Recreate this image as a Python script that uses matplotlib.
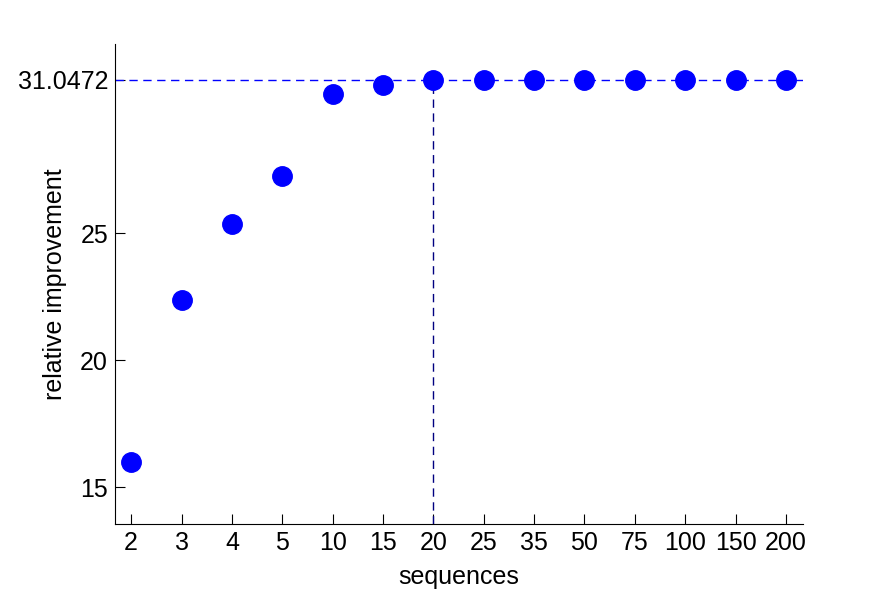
import matplotlib
matplotlib.use("Agg")
import matplotlib.pyplot as plt

# данные с графика
sequences = ["2", "3", "4", "5", "10", "15", "20", "25", "35", "50", "75", "100", "150", "200"]
improvement = [15.98, 22.37, 25.38, 27.28, 30.5, 30.85, 31.0472, 31.0472, 31.0472,
               31.0472, 31.0472, 31.0472, 31.0472, 31.0472]
best_value = 31.0472
best_label = "20"

plt.rcParams["font.family"] = ["Liberation Sans", "DejaVu Sans"]

fig = plt.figure(figsize=(8.87, 5.91), dpi=100)
ax = fig.add_axes([0.1297, 0.1134, 0.7756, 0.8121])

pos = list(range(1, len(sequences) + 1))
ax.plot(pos, improvement, "o", color="#0000ff", markersize=14, zorder=3)

ax.axhline(best_value, color="#0000ff", linestyle=(0, (6, 4)), linewidth=1, zorder=2)
bi = pos[sequences.index(best_label)]
ax.vlines(bi, 13.55, best_value, color="#000080", linestyles=(0, (6, 4)), linewidth=1, zorder=2)

ax.set_xlim(0.68, 14.34)
ax.set_ylim(13.55, 32.46)
ax.set_xticks(pos)
ax.set_xticklabels(sequences)
ax.set_yticks([15, 20, 25, best_value])
ax.set_yticklabels(["15", "20", "25", "31.0472"])

ax.spines["top"].set_visible(False)
ax.spines["right"].set_visible(False)
ax.tick_params(direction="in", length=7, labelsize=18, pad=5)

ax.set_xlabel("sequences", fontsize=18)
ax.set_ylabel("relative improvement", fontsize=18)
ax.xaxis.set_label_coords(0.5, -0.085)
ax.yaxis.set_label_coords(-0.0698, 0.5)

fig.savefig("out.png", dpi=100)
